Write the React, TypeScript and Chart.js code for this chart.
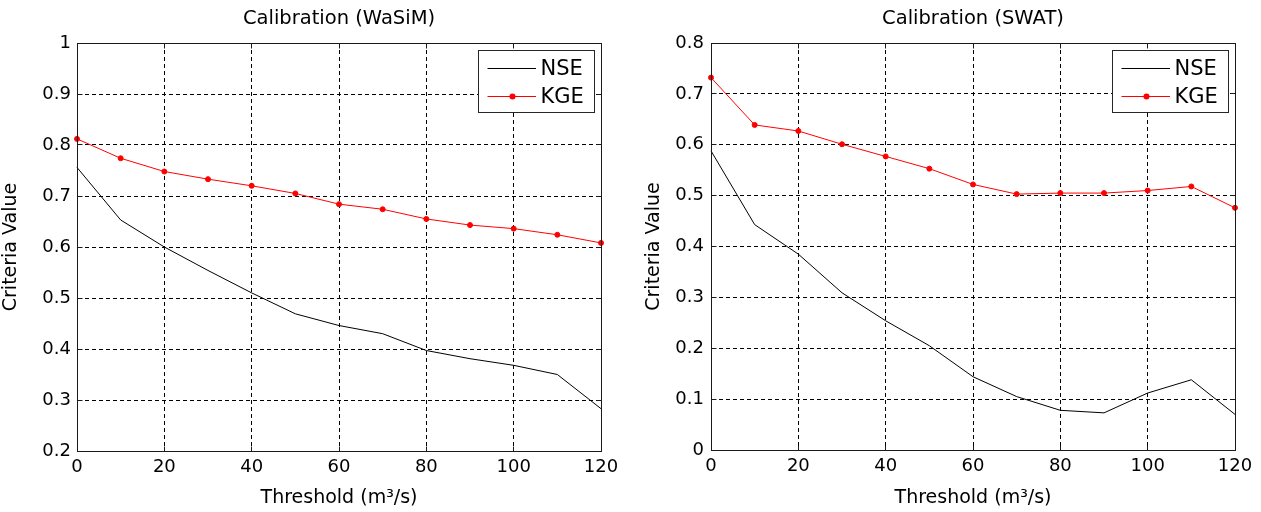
import React, { useEffect, useRef } from 'react';
import { Chart, registerables } from 'chart.js';

Chart.register(...registerables);

// ---------- DATA ----------
const thresholds = [0, 10, 20, 30, 40, 50, 60, 70, 80, 90, 100, 110, 120];

const wasimNSE = [0.756, 0.653, 0.6, 0.554, 0.51, 0.469, 0.446, 0.43, 0.397, 0.381, 0.368, 0.35, 0.283];
const wasimKGE = [0.812, 0.774, 0.748, 0.733, 0.72, 0.705, 0.684, 0.674, 0.655, 0.643, 0.636, 0.624, 0.608];

const swatNSE = [0.588, 0.443, 0.385, 0.309, 0.254, 0.205, 0.144, 0.105, 0.078, 0.073, 0.112, 0.138, 0.07];
const swatKGE = [0.732, 0.639, 0.627, 0.601, 0.577, 0.553, 0.522, 0.503, 0.505, 0.505, 0.51, 0.518, 0.476];

const xTickValues = [0, 20, 40, 60, 80, 100, 120];
const xTickLabels = ['0', '20', '40', '60', '80', '100', '120'];

const wasimYTickValues = [0.2, 0.3, 0.4, 0.5, 0.6, 0.7, 0.8, 0.9, 1.0];
const wasimYTickLabels = ['0.2', '0.3', '0.4', '0.5', '0.6', '0.7', '0.8', '0.9', '1'];

const swatYTickValues = [0, 0.1, 0.2, 0.3, 0.4, 0.5, 0.6, 0.7, 0.8];
const swatYTickLabels = ['0', '0.1', '0.2', '0.3', '0.4', '0.5', '0.6', '0.7', '0.8'];

const seriesLabels = ['NSE', 'KGE'];
const panelTitles = ['Calibration (WaSiM)', 'Calibration (SWAT)'];
const xAxisTitle = 'Threshold (m\u00B3/s)';
const yAxisTitle = 'Criteria Value';

// ---------- STYLE ----------
const FONT = "'DejaVu Sans', 'Liberation Sans', Arial, sans-serif";
const FRAME = '#1a1a1a';

function alignPx(p: number) {
  return Math.round(p - 0.5) + 0.5;
}

const frameAndLegend = {
  id: 'frameAndLegend',
  afterDraw(chart: any) {
    const { ctx, chartArea: a, scales } = chart;
    const xs = scales.x;
    const ys = scales.y;
    ctx.save();
    ctx.setLineDash([]);
    ctx.strokeStyle = FRAME;
    ctx.lineWidth = 1;
    const L = 5;
    const left = alignPx(a.left);
    const right = alignPx(a.right);
    const top = alignPx(a.top);
    const bottom = alignPx(a.bottom);
    ctx.beginPath();
    xs.ticks.forEach((t: any) => {
      const px = alignPx(xs.getPixelForValue(t.value));
      ctx.moveTo(px, bottom);
      ctx.lineTo(px, bottom - L);
      ctx.moveTo(px, top);
      ctx.lineTo(px, top + L);
    });
    ys.ticks.forEach((t: any) => {
      const py = alignPx(ys.getPixelForValue(t.value));
      ctx.moveTo(left, py);
      ctx.lineTo(left + L, py);
      ctx.moveTo(right, py);
      ctx.lineTo(right - L, py);
    });
    ctx.stroke();
    ctx.strokeRect(left, top, right - left, bottom - top);

    // legend box
    const bw = 116;
    const bh = 62;
    const bx = alignPx(a.right - 7 - bw);
    const by = alignPx(a.top + 7.5);
    ctx.fillStyle = '#ffffff';
    ctx.fillRect(bx, by, bw, bh);
    ctx.strokeStyle = '#262626';
    ctx.strokeRect(bx, by, bw, bh);
    const rows = [by + 17.8, by + 45];
    ctx.font = `21px ${FONT}`;
    ctx.textBaseline = 'middle';
    ctx.textAlign = 'left';
    chart.data.datasets.forEach((ds: any, i: number) => {
      const ry = Math.round(rows[i]) + 0.5;
      ctx.strokeStyle = ds.borderColor;
      ctx.lineWidth = 1;
      ctx.beginPath();
      ctx.moveTo(bx + 9, ry);
      ctx.lineTo(bx + 57.5, ry);
      ctx.stroke();
      if (ds.pointRadius > 0) {
        ctx.fillStyle = ds.borderColor;
        ctx.beginPath();
        ctx.arc(bx + 34, ry, 3, 0, Math.PI * 2);
        ctx.fill();
      }
      ctx.fillStyle = '#000';
      ctx.fillText(ds.label, bx + 62, ry + 1);
    });
    ctx.restore();
  },
};

interface PanelSpec {
  title: string;
  nse: number[];
  kge: number[];
  yMin: number;
  yMax: number;
  yTicks: number[];
  yLabels: string[];
  yAxisWidth: number;
  yTitlePad: number;
  yTickPad: number;
  xAxisHeight: number;
  rightPad: number;
}

function buildConfig(spec: PanelSpec): any {
  return {
    type: 'line',
    data: {
      datasets: [
        {
          label: seriesLabels[0],
          data: thresholds.map((t, i) => ({ x: t, y: spec.nse[i] })),
          borderColor: '#000000',
          backgroundColor: '#000000',
          borderWidth: 1,
          pointRadius: 0,
          tension: 0,
          fill: false,
          clip: false,
        },
        {
          label: seriesLabels[1],
          data: thresholds.map((t, i) => ({ x: t, y: spec.kge[i] })),
          borderColor: '#ff0000',
          backgroundColor: '#ff0000',
          borderWidth: 1,
          pointRadius: 2.5,
          pointBorderWidth: 1,
          pointStyle: 'circle',
          tension: 0,
          fill: false,
          clip: false,
        },
      ],
    },
    options: {
      responsive: false,
      animation: false,
      devicePixelRatio: 1,
      events: [],
      layout: { padding: { left: 0, right: spec.rightPad, top: 0, bottom: 0 } },
      plugins: {
        legend: { display: false },
        tooltip: { enabled: false },
        title: {
          display: true,
          text: spec.title,
          fullSize: false,
          color: '#000',
          font: { family: FONT, size: 19.5, weight: 'normal', lineHeight: 1.2 },
          padding: { top: 7.5, bottom: 12.1 },
        },
      },
      scales: {
        x: {
          type: 'linear',
          min: 0,
          max: 120,
          afterBuildTicks: (s: any) => {
            s.ticks = xTickValues.map((v) => ({ value: v }));
          },
          afterFit: (s: any) => {
            s.height = spec.xAxisHeight;
          },
          ticks: {
            callback: (_v: any, i: number) => xTickLabels[i],
            color: '#000',
            font: { family: FONT, size: 18, lineHeight: 1.2 },
            padding: 6,
            maxRotation: 0,
            autoSkip: false,
          },
          grid: { color: '#000', lineWidth: 1, drawTicks: false },
          border: { display: true, color: FRAME, width: 1, dash: [4, 3] },
          title: {
            display: true,
            text: xAxisTitle,
            color: '#000',
            font: { family: FONT, size: 19, weight: 'normal', lineHeight: 1.2 },
            padding: { top: 0, bottom: 3 },
          },
        },
        y: {
          type: 'linear',
          min: spec.yMin,
          max: spec.yMax,
          afterBuildTicks: (s: any) => {
            s.ticks = spec.yTicks.map((v) => ({ value: v }));
          },
          afterFit: (s: any) => {
            s.width = spec.yAxisWidth;
          },
          ticks: {
            callback: (_v: any, i: number) => spec.yLabels[i],
            color: '#000',
            font: { family: FONT, size: 18, lineHeight: 1.2 },
            padding: spec.yTickPad,
            autoSkip: false,
          },
          grid: { color: '#000', lineWidth: 1, drawTicks: false },
          border: { display: true, color: FRAME, width: 1, dash: [4, 3] },
          title: {
            display: true,
            text: yAxisTitle,
            color: '#000',
            font: { family: FONT, size: 19, weight: 'normal', lineHeight: 1.2 },
            padding: { top: spec.yTitlePad, bottom: 0 },
          },
        },
      },
    },
    plugins: [frameAndLegend],
  };
}

function Panel({ spec, left, width }: { spec: PanelSpec; left: number; width: number }) {
  const ref = useRef<HTMLCanvasElement | null>(null);
  useEffect(() => {
    if (!ref.current) return;
    const chart = new Chart(ref.current, buildConfig(spec));
    return () => chart.destroy();
  }, [spec]);
  return (
    <canvas
      ref={ref}
      width={width}
      height={512}
      style={{ position: 'absolute', left, top: 0, width, height: 512 }}
    />
  );
}

const wasimSpec: PanelSpec = {
  title: panelTitles[0],
  nse: wasimNSE,
  kge: wasimKGE,
  yMin: 0.2,
  yMax: 1,
  yTicks: wasimYTickValues,
  yLabels: wasimYTickLabels,
  yAxisWidth: 77,
  yTitlePad: 0,
  yTickPad: 6,
  xAxisHeight: 61,
  rightPad: 29,
};

const swatSpec: PanelSpec = {
  title: panelTitles[1],
  nse: swatNSE,
  kge: swatKGE,
  yMin: 0,
  yMax: 0.8,
  yTicks: swatYTickValues,
  yLabels: swatYTickLabels,
  yAxisWidth: 81,
  yTitlePad: 12.5,
  yTickPad: 7,
  xAxisHeight: 62,
  rightPad: 26,
};

export default function App() {
  return (
    <div
      style={{
        position: 'absolute',
        left: 0,
        top: 0,
        width: 1261,
        height: 512,
        background: '#ffffff',
        overflow: 'hidden',
      }}
    >
      <Panel spec={wasimSpec} left={0} width={630} />
      <Panel spec={swatSpec} left={630} width={631} />
    </div>
  );
}
